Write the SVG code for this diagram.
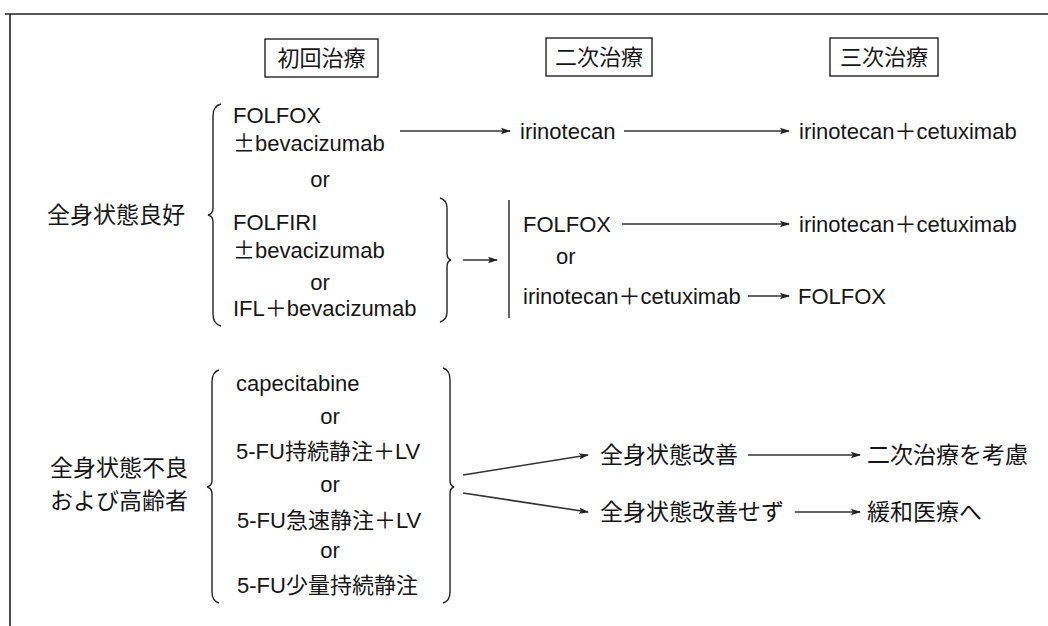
<svg xmlns="http://www.w3.org/2000/svg" width="1048" height="626" viewBox="0 0 1048 626">
<defs>
<marker id="ah" viewBox="0 0 10 8" refX="9" refY="4" markerWidth="10" markerHeight="8" markerUnits="userSpaceOnUse" orient="auto">
<path d="M0,0.8 L10,4 L0,7.2 L2,4 Z" fill="#222"/>
</marker>
</defs>
<style>
text{font-family:"Liberation Sans","Noto Sans CJK JP",sans-serif;font-size:22px;fill:#151515}
.jp{font-family:"Noto Sans CJK JP",sans-serif;font-size:23px}
.hd{font-family:"Noto Sans CJK JP",sans-serif;font-size:22px}
.pm{font-family:"Noto Sans CJK JP",sans-serif}
.c{text-anchor:middle}
.box{fill:none;stroke:#222;stroke-width:1.4}
.br{fill:none;stroke:#222;stroke-width:1.4}
.ar{fill:none;stroke:#333;stroke-width:1.6;marker-end:url(#ah)}
.frame{fill:none;stroke:#222;stroke-width:1.6}
</style>
<rect width="1048" height="626" fill="#fff"/>
<path class="frame" d="M5,14 L1048,14 M10,14 L10,626"/>

<g id="h1"><rect class="box" x="265" y="39" width="113" height="38"/><text class="hd c" x="321.5" y="66">初回治療</text></g>
<g id="h2"><rect class="box" x="546" y="38" width="106" height="38"/><text class="hd c" x="599" y="65">二次治療</text></g>
<g id="h3"><rect class="box" x="830" y="38" width="108" height="38"/><text class="hd c" x="884" y="65">三次治療</text></g>

<g id="good"><text class="jp" x="47" y="223">全身状態良好</text></g>
<g id="good-brace"><path class="br" d="M221,104 Q213,106 213,116 L213,208 Q213,214 208,215 Q213,216 213,222 L213,314 Q213,324 221,326"/></g>
<g id="first-good">
<text x="233" y="123">FOLFOX</text>
<text x="233" y="151"><tspan class="pm">±</tspan>bevacizumab</text>
<text class="c" x="320" y="187">or</text>
<text x="233" y="230">FOLFIRI</text>
<text x="233" y="258"><tspan class="pm">±</tspan>bevacizumab</text>
<text class="c" x="320" y="290">or</text>
<text x="233" y="316">IFL＋bevacizumab</text>
</g>
<g id="folfiri-brace"><path class="br" d="M440,198 Q447,200 447,208 L447,253 Q447,259 451,260 Q447,261 447,267 L447,312 Q447,320 440,322"/></g>
<g id="second-irino"><text x="520" y="139">irinotecan</text></g>
<g id="third-irino-cet"><text x="799" y="139">irinotecan＋cetuximab</text></g>
<g id="alt-group">
<path class="br" d="M509,200 L509,318"/>
<text x="523" y="232">FOLFOX</text>
<text x="799" y="232">irinotecan＋cetuximab</text>
<text x="556" y="264">or</text>
<text x="523" y="304">irinotecan＋cetuximab</text>
<text x="798" y="304">FOLFOX</text>
</g>

<g id="poor"><text class="jp" x="50" y="476">全身状態不良</text><text class="jp" x="50" y="509">および高齢者</text></g>
<g id="poor-brace-l"><path class="br" d="M219,370 Q212,372 212,382 L212,480 Q212,486 207,487 Q212,488 212,494 L212,592 Q212,601 219,603"/></g>
<g id="first-poor">
<text x="236" y="391">capecitabine</text>
<text class="c" x="330" y="424">or</text>
<text x="236" y="459">5-FU持続静注＋LV</text>
<text class="c" x="330" y="492">or</text>
<text x="237" y="528">5-FU急速静注＋LV</text>
<text class="c" x="330" y="558">or</text>
<text x="237" y="593">5-FU少量持続静注</text>
</g>
<g id="poor-brace-r"><path class="br" d="M443,368 Q450,370 450,380 L450,480 Q450,486 454,487 Q450,488 450,494 L450,592 Q450,601 443,603"/></g>
<g id="improve"><text class="jp" x="600" y="463">全身状態改善</text></g>
<g id="consider"><text class="jp" x="867" y="463">二次治療を考慮</text></g>
<g id="noimprove"><text class="jp" x="600" y="520">全身状態改善せず</text></g>
<g id="palliative"><text class="jp" x="867" y="520">緩和医療へ</text></g>

<g id="connectors">
<path class="ar" d="M400,131 L510,131"/>
<path class="ar" d="M624,131 L789,131"/>
<path class="ar" d="M463,260 L497,260"/>
<path class="ar" d="M622,224 L789,224"/>
<path class="ar" d="M748,296 L789,296"/>
<path class="ar" d="M463,475 L588,455"/>
<path class="ar" d="M463,493 L588,512"/>
<path class="ar" d="M748,455 L860,455"/>
<path class="ar" d="M795,512 L860,512"/>
</g>
</svg>
